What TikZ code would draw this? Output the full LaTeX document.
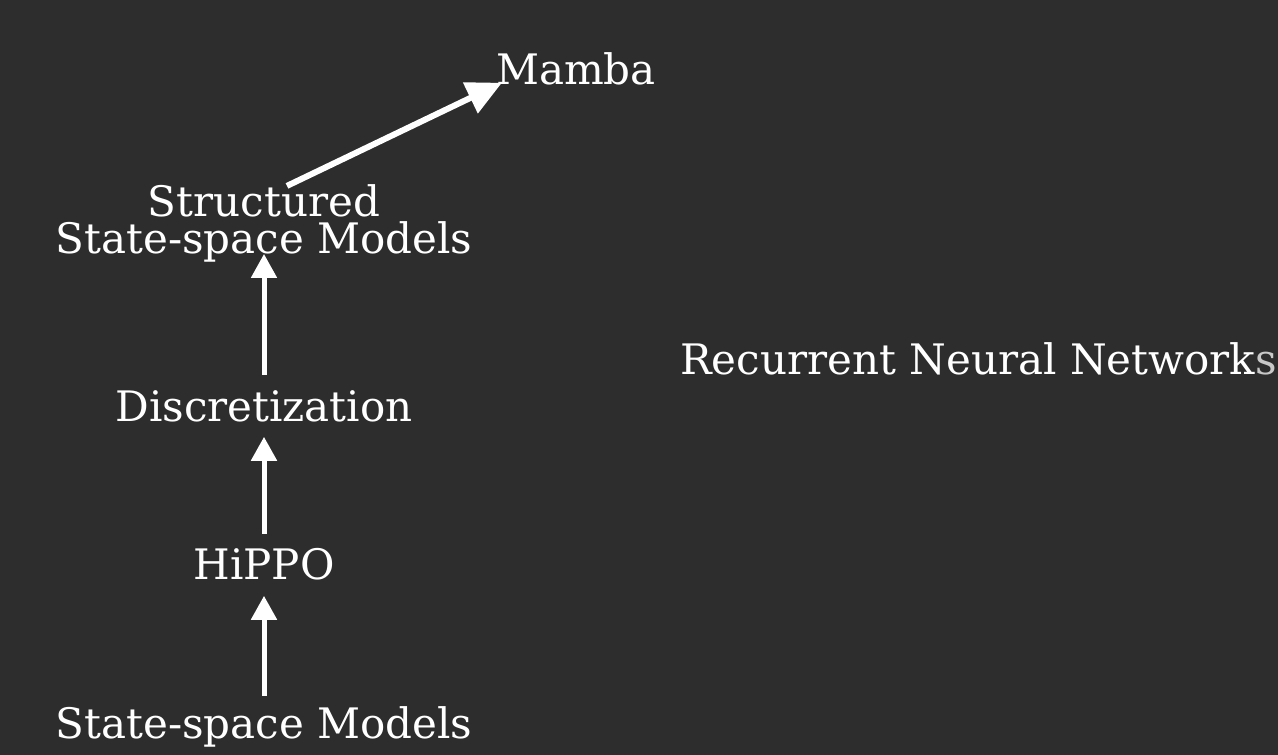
\documentclass[tikz,border=0pt]{standalone}
\usepackage{fontspec}
\setmainfont{DejaVu Serif}
\usetikzlibrary{arrows.meta}
\definecolor{bg}{HTML}{2D2D2D}
\definecolor{fadeS}{HTML}{C8C8C8}
\begin{document}
\begin{tikzpicture}[x=1pt,y=-1pt,
  lbl/.style={text=white,inner sep=0pt,font=\fontsize{42}{37}\selectfont,anchor=base},
  arr/.style={draw=white,line width=5pt,-{Triangle[length=24pt,width=25pt]}},
  bigarr/.style={draw=white,line width=6pt,-{Triangle[length=35pt,width=33pt]}}]
\fill[bg] (0,0) rectangle (1278,755);
\useasboundingbox (0,0) rectangle (1278,755);
\node[lbl] (mamba) at (576,84) {Mamba};
\node[lbl,align=center] (sssm) at (264,253) {Structured\\State-space Models};
\node[lbl] (disc) at (264,421) {Discretization};
\node[lbl] (hippo) at (264,579) {HiPPO};
\node[lbl] (ssm) at (264,738) {State-space Models};
\node[lbl,anchor=base west] (rnn) at (680,374) {Recurrent Neural Network{\color{fadeS}s}};
\draw[arr,shorten <=10pt,shorten >=16pt] (ssm.north) -- (hippo.south);
\draw[arr,shorten <=14pt,shorten >=15pt] (hippo.north) -- (disc.south);
\draw[arr,shorten <=15pt,shorten >=-8pt] (disc.north) -- (sssm.south);
\draw[bigarr] ([xshift=23pt,yshift=-2pt]sssm.north) -- ([xshift=6pt,yshift=2pt]mamba.south west);
\end{tikzpicture}
\end{document}
